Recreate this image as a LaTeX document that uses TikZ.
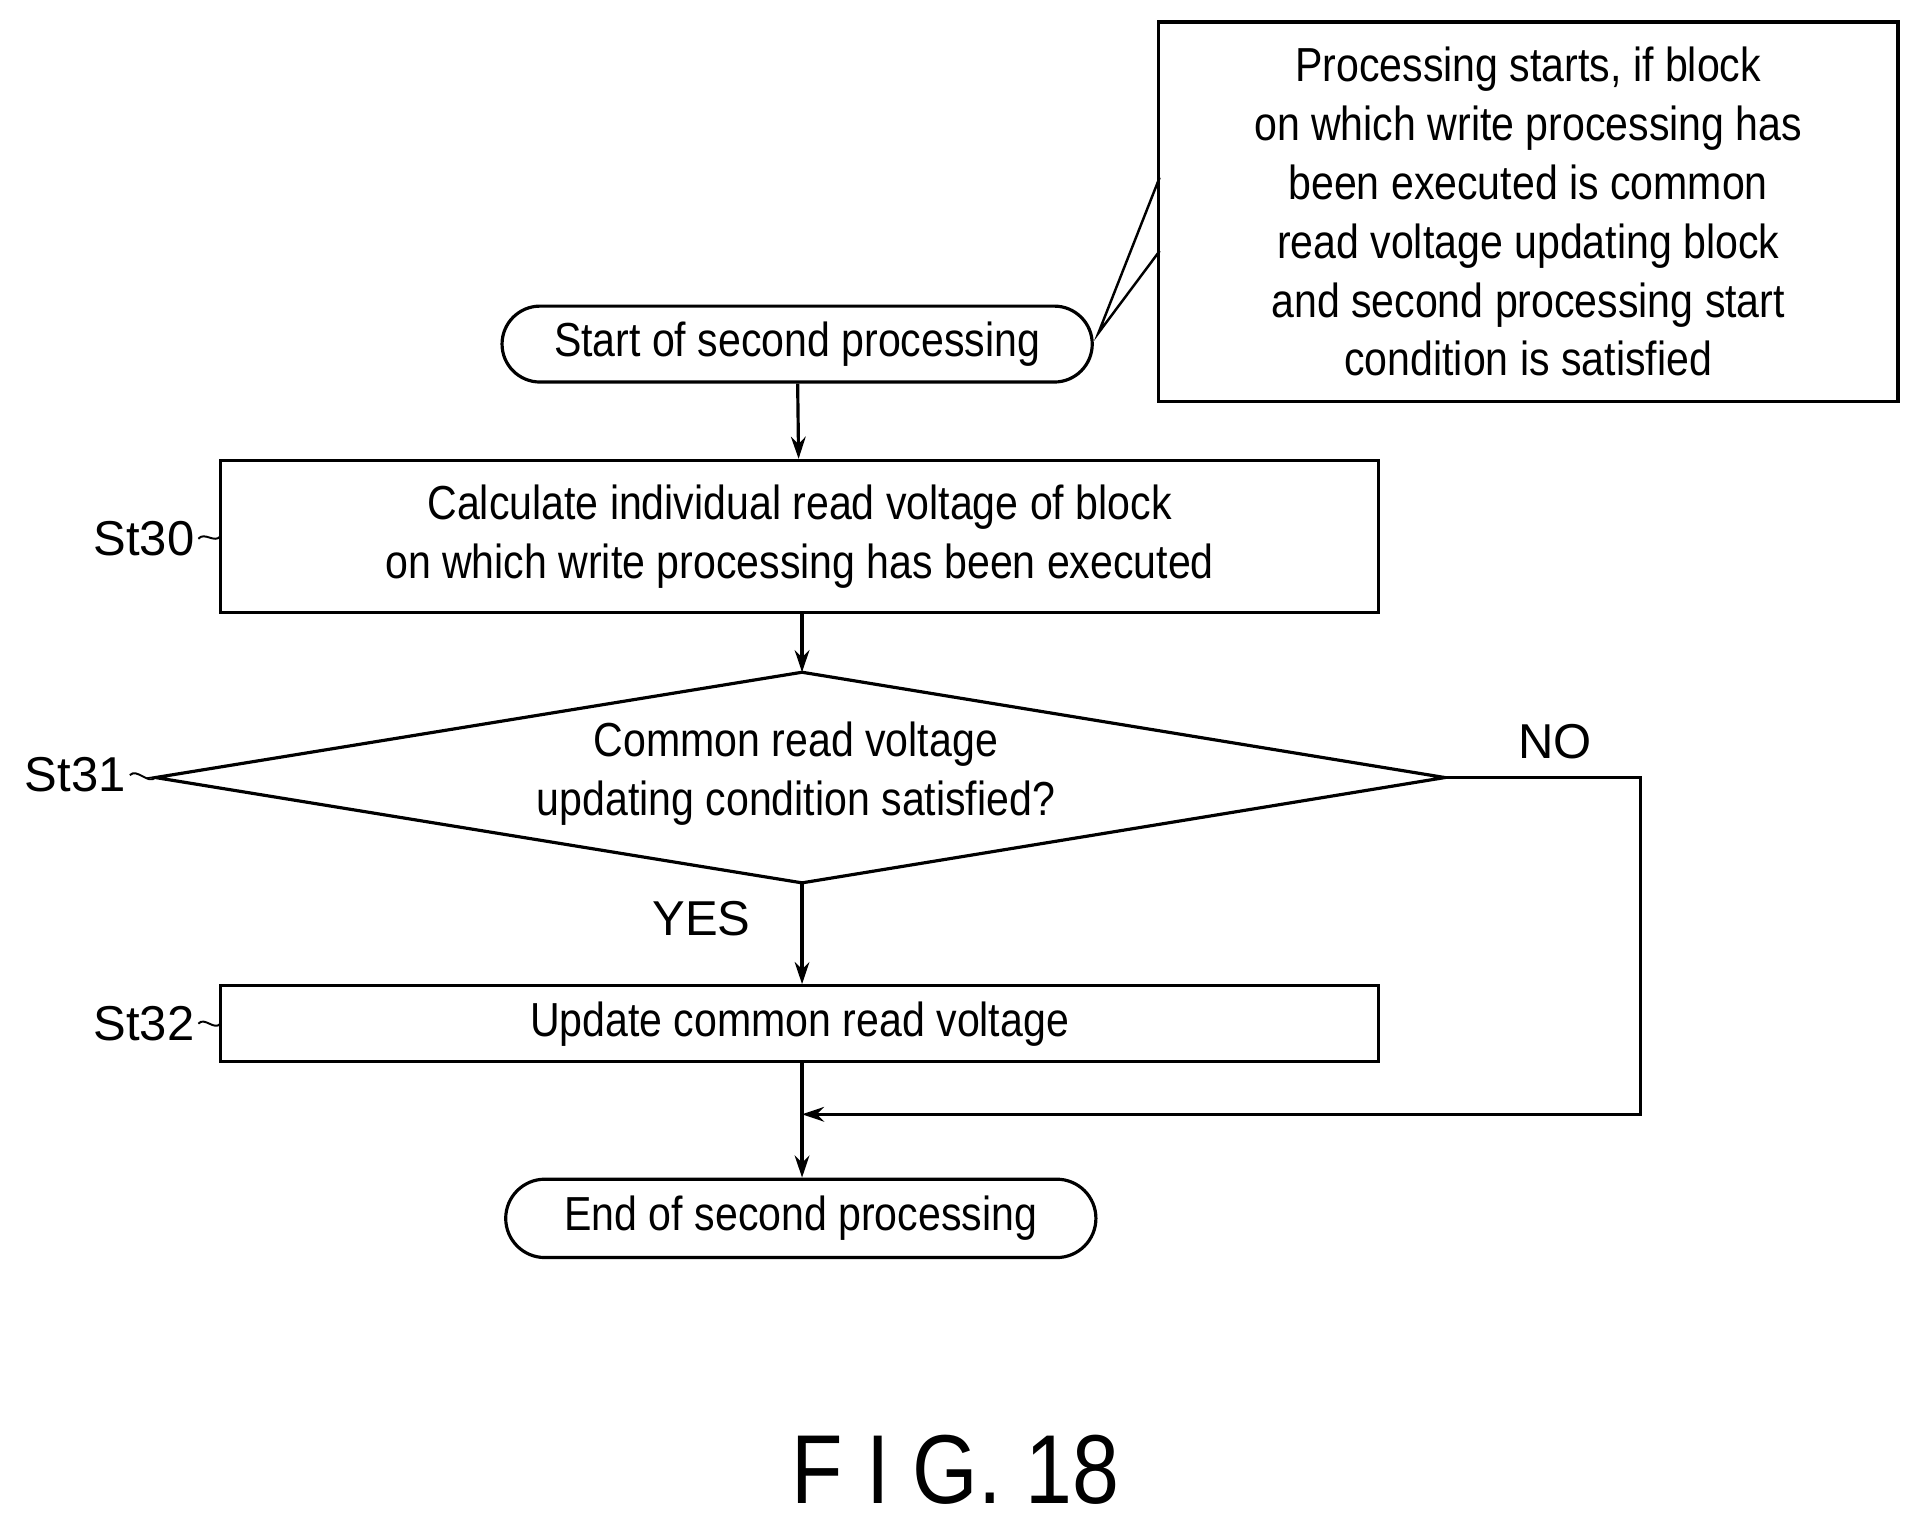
\documentclass[tikz,border=0pt]{standalone}
\usepackage{fontspec}
\setmainfont{Liberation Sans}[FakeStretch=0.86]
\newfontfamily\lblfont{Liberation Sans}
\usetikzlibrary{shapes.geometric,arrows.meta}
\begin{document}
\begin{tikzpicture}[x=0.5pt,y=-0.5pt,line width=1.3pt,
  txt/.style={font=\fontsize{19.5}{24}\selectfont,align=center},
  lbl/.style={font=\lblfont\fontsize{20}{24}\selectfont},
  arr/.style={-{Stealth[length=9pt,width=6pt]}}]
\useasboundingbox (0,0) rectangle (1568,1245);
\node[draw,rounded corners=15.5pt,minimum width=241pt,minimum height=31pt,txt] (start) at (651,281) {Start of second processing};
\node[draw,minimum width=302pt,minimum height=155pt,txt] (call) at (1248,173) {Processing starts, if block\\on which write processing has\\been executed is common\\read voltage updating block\\and second processing start\\condition is satisfied};
\draw[line width=1pt] (947,145) -- (897,272) -- (947,205);
\node[draw,minimum width=473pt,minimum height=62pt,txt] (s30) at (653,438) {Calculate individual read voltage of block\\on which write processing has been executed};
\coordinate (dl) at (127,635); \coordinate (dr) at (1180,635);
\coordinate (dt) at (655,549); \coordinate (db) at (655,721);
\draw (dl) -- (dt) -- (dr) -- (db) -- cycle;
\node[txt] (s31) at (650,632) {Common read voltage\\updating condition satisfied?};
\node[draw,minimum width=473pt,minimum height=31pt,txt] (s32) at (653,836) {Update common read voltage};
\node[draw,rounded corners=16pt,minimum width=241pt,minimum height=32pt,txt] (end) at (654,995) {End of second processing};
\coordinate (j) at (655,910);
\draw[arr] (start) -- (s30);
\draw[arr] (s30.south -| dt) -- (dt);
\draw[arr] (db) -- (s32.north -| db);
\draw[arr] (s32.south -| j) -- (end.north -| j);
\draw[arr] (dr) -- (1340,635) -- (1340,910) -- (j);
\node[lbl] (yes) at (573,750) {YES};
\node[lbl] (no) at (1270,606) {NO};
\node[lbl,anchor=east,inner sep=1pt] (l30) at (162,440) {St30};
\node[lbl,anchor=east,inner sep=1pt] (l31) at (106,633) {St31};
\node[lbl,anchor=east,inner sep=1pt] (l32) at (162,836) {St32};
\draw[line width=0.8pt] (l30.east) .. controls +(5,-6) and +(-5,6) .. (180,438);
\draw[line width=0.8pt] (l31.east) .. controls +(6,-6) and +(-6,6) .. (dl);
\draw[line width=0.8pt] (l32.east) .. controls +(5,-6) and +(-5,6) .. (180,836);
\node[font=\fontsize{40}{44}\selectfont] (fig) at (780,1200) {F I G. 18};
\end{tikzpicture}
\end{document}
